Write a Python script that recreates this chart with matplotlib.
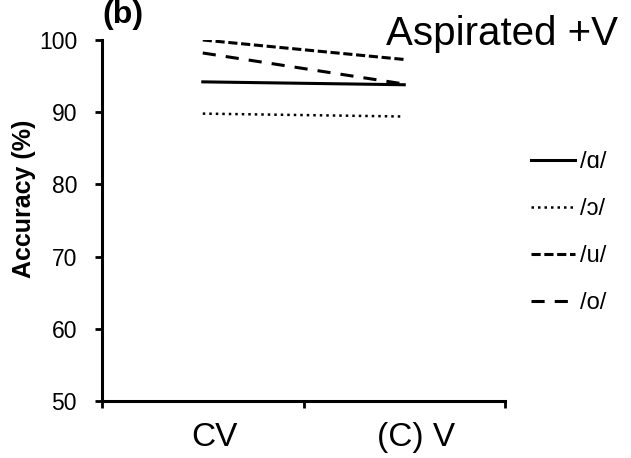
import matplotlib
matplotlib.use("Agg")
import matplotlib.pyplot as plt
import matplotlib.transforms as mtransforms

# conditions on the x axis
conditions = ["CV", "(C) V"]

# accuracy (%) per vowel
vowels = ["/ɑ/", "/ɔ/", "/u/", "/o/"]
acc_a = [94.2, 93.8]
acc_open_o = [89.8, 89.4]
acc_u = [100.0, 97.3]
acc_o = [98.2, 93.9]

y_ticks = [50, 60, 70, 80, 90, 100]

plt.rcParams['font.family'] = ['Liberation Sans', 'DejaVu Sans']

fig = plt.figure(figsize=(6.31, 4.58), dpi=100)
ax = fig.add_axes([0.1617, 0.1245, 0.6386, 0.7882])

xs = [0.5, 1.5]
styles = [
    dict(linestyle='-', linewidth=2.2),
    dict(linestyle=(0, (1, 1.6)), linewidth=1.8),
    dict(linestyle=(0, (3, 1.2)), linewidth=2.2),
    dict(linestyle=(0, (4.3, 3.3)), linewidth=2.2),
]
series = [acc_a, acc_open_o, acc_u, acc_o]
handles = []
for vals, st, name in zip(series, styles, vowels):
    h, = ax.plot(xs, vals, color='black', label=name, **st)
    handles.append(h)

ax.set_xlim(0, 2)
ax.set_ylim(50, 100)
ax.set_yticks(y_ticks)
ax.set_xticks([0, 1, 2])
ax.set_xticklabels([])
ax.set_xticks(xs, minor=True)
ax.set_xticklabels(conditions, minor=True, fontsize=24)
ax.tick_params(axis='x', which='minor', length=0, pad=15)
ax.tick_params(axis='x', which='major', direction='out', length=5, width=2)
ax.tick_params(axis='y', direction='out', length=5, width=2, labelsize=16.5, pad=13)

# x labels sit a bit right of the category centres
offset = mtransforms.ScaledTranslation(0.12, 0, fig.dpi_scale_trans)
for lab in ax.get_xticklabels(minor=True):
    lab.set_transform(lab.get_transform() + offset)

for side in ['top', 'right']:
    ax.spines[side].set_visible(False)
for side in ['left', 'bottom']:
    ax.spines[side].set_linewidth(2.2)

ax.set_ylabel('Accuracy (%)', fontsize=18, fontweight='bold',
              family=['Liberation Sans Narrow', 'Liberation Sans', 'DejaVu Sans'])
ax.yaxis.set_label_coords(-0.165, 0.56)

fig.text(0.163, 1.0, '(b)', fontsize=23, fontweight='bold', va='top', ha='left')
fig.text(0.98, 0.968, 'Aspirated +V', fontsize=29, va='top', ha='right')

fig.legend(handles=handles, loc='upper left', bbox_to_anchor=(0.827, 0.69),
           frameon=False, fontsize=17, handlelength=1.85, handletextpad=0.2,
           labelspacing=1.05, borderaxespad=0)

fig.savefig('out.png', dpi=100)
